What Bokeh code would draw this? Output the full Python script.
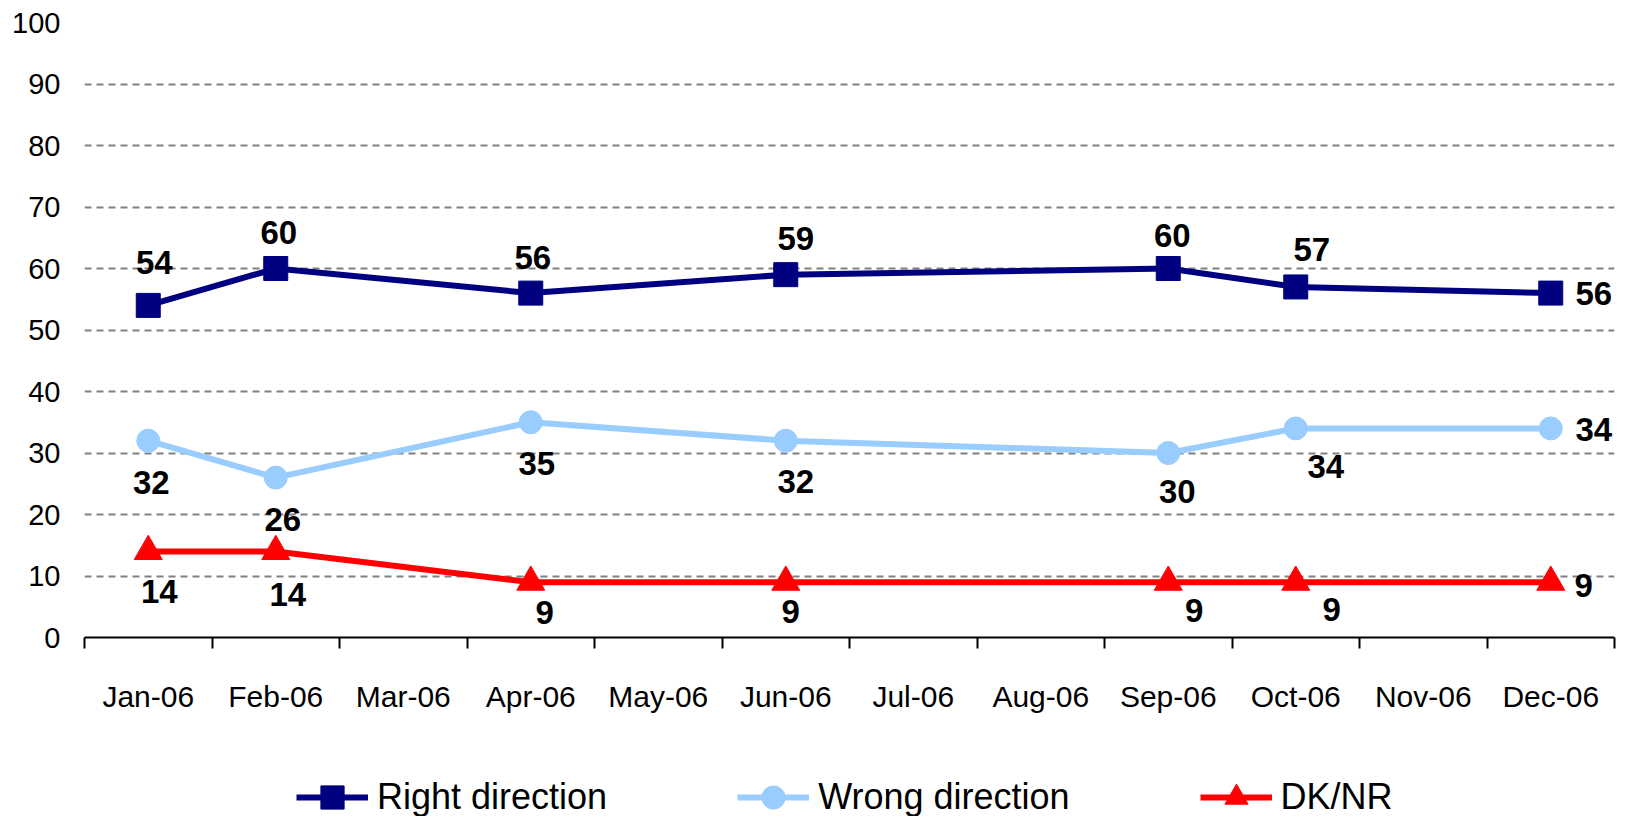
from bokeh.plotting import figure
from bokeh.layouts import column
from bokeh.models import Range1d, FixedTicker, Legend, LegendItem, ColumnDataSource
from bokeh.core.properties import value
from bokeh.embed import file_html
from bokeh.resources import INLINE

# ---- data ----
months = ["Jan-06", "Feb-06", "Mar-06", "Apr-06", "May-06", "Jun-06",
          "Jul-06", "Aug-06", "Sep-06", "Oct-06", "Nov-06", "Dec-06"]
survey_months = ["Jan-06", "Feb-06", "Apr-06", "Jun-06", "Sep-06", "Oct-06", "Dec-06"]
right_direction = [54, 60, 56, 59, 60, 57, 56]
wrong_direction = [32, 26, 35, 32, 30, 34, 34]
dk_nr = [14, 14, 9, 9, 9, 9, 9]
y_ticks = [0, 10, 20, 30, 40, 50, 60, 70, 80, 90, 100]

# ---- label offsets (screen px, style only) ----
right_dx = [6, 3, 2, 10, 4, 16, 43]
right_dy = [-43, -36, -36, -36, -33, -37, 0]
wrong_dx = [3, 7, 6, 10, 9, 30, 43]
wrong_dy = [42, 42, 41, 41, 38, 38, 1]
dk_dx = [11, 12, 14, 5, 26, 36, 33]
dk_dy = [40, 43, 30, 29, 28, 27, 3]

FONT = "Liberation Sans"
W = 1622

xs = [months.index(m) + 0.5 for m in survey_months]

p = figure(width=W, height=720, output_backend="svg", toolbar_location=None,
           x_range=Range1d(0, len(months)), y_range=Range1d(0, 100),
           min_border_left=84, min_border_right=8, min_border_top=22,
           min_border_bottom=83)
p.outline_line_color = None
p.background_fill_color = "white"
p.border_fill_color = "white"

# grid
p.xgrid.visible = False
p.ygrid.ticker = FixedTicker(ticks=y_ticks[1:])
p.ygrid.grid_line_color = "#808080"
p.ygrid.grid_line_dash = "7 5"
p.ygrid.grid_line_width = 2

# y axis
p.yaxis.ticker = FixedTicker(ticks=y_ticks)
p.yaxis.axis_line_color = None
p.yaxis.major_tick_line_color = None
p.yaxis.minor_tick_line_color = None
p.yaxis.major_tick_out = 0
p.yaxis.major_tick_in = 0
p.yaxis.major_label_standoff = 24
p.yaxis.major_label_text_font = FONT
p.yaxis.major_label_text_font_size = "29px"
p.yaxis.major_label_text_color = "black"

# x axis
p.xaxis.ticker = FixedTicker(ticks=[i + 0.5 for i in range(len(months))],
                             minor_ticks=list(range(len(months) + 1)))
p.xaxis.major_label_overrides = {i + 0.5: m for i, m in enumerate(months)}
p.xaxis.axis_line_color = "black"
p.xaxis.axis_line_width = 2
p.xaxis.major_tick_line_color = None
p.xaxis.major_tick_out = 0
p.xaxis.major_tick_in = 0
p.xaxis.minor_tick_line_color = "black"
p.xaxis.minor_tick_line_width = 2
p.xaxis.minor_tick_out = 11
p.xaxis.minor_tick_in = 0
p.xaxis.major_label_standoff = 31
p.xaxis.major_label_text_font = FONT
p.xaxis.major_label_text_font_size = "30px"
p.xaxis.major_label_text_color = "black"

# legend-only figure below the chart
pl = figure(width=W, height=96, output_backend="svg", toolbar_location=None,
            x_range=Range1d(1000, 1001), y_range=Range1d(1000, 1001),
            x_axis_type=None, y_axis_type=None,
            min_border_left=0, min_border_right=0, min_border_top=0,
            min_border_bottom=0)
pl.outline_line_color = None
pl.xgrid.visible = False
pl.ygrid.visible = False

series = [
    ("Right direction", right_direction, "#000080", "square", 24, right_dx, right_dy),
    ("Wrong direction", wrong_direction, "#99CCFF", "circle", 23, wrong_dx, wrong_dy),
    ("DK/NR", dk_nr, "#FF0000", "triangle", 28, dk_dx, dk_dy),
]

items = []
for name, vals, color, marker, size, dx, dy in series:
    src = ColumnDataSource(dict(x=xs, y=vals, lab=[str(v) for v in vals], dx=dx, dy=dy))
    p.line("x", "y", source=src, line_color=color, line_width=6)
    p.scatter("x", "y", source=src, marker=marker, size=size,
              fill_color=color, line_color=color)
    p.text("x", "y", text="lab", source=src, x_offset="dx", y_offset="dy",
           text_align="center", text_baseline="middle",
           text_font=value(FONT), text_font_style="bold",
           text_font_size="33px", text_color="black")
    # same series in the legend panel (out of its view; only the legend shows)
    lr = pl.line("x", "y", source=src, line_color=color, line_width=6)
    sr = pl.scatter("x", "y", source=src, marker=marker, size=size,
                    fill_color=color, line_color=color)
    items.append(LegendItem(label=name, renderers=[lr, sr]))

legend = Legend(items=items, orientation="horizontal", location=(212, -10),
                glyph_width=72, glyph_height=58, label_standoff=9, spacing=130,
                padding=0, margin=0, border_line_color=None,
                background_fill_alpha=0,
                label_text_font=FONT, label_text_font_size="36px",
                label_text_color="black")
pl.add_layout(legend)

layout = column(p, pl, spacing=0)
open("out.html", "w").write(file_html(layout, INLINE))
